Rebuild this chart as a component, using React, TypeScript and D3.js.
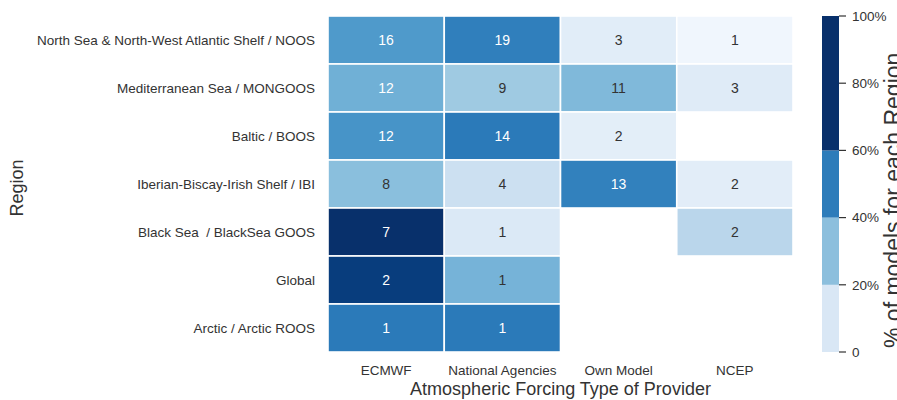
import React, { useEffect, useRef } from 'react';
import * as d3 from 'd3';

// rows, top to bottom
const regions = [
  'North Sea & North-West Atlantic Shelf / NOOS',
  'Mediterranean Sea / MONGOOS',
  'Baltic / BOOS',
  'Iberian-Biscay-Irish Shelf / IBI',
  'Black Sea  / BlackSea GOOS',
  'Global',
  'Arctic / Arctic ROOS',
];
const providers = ['ECMWF', 'National Agencies', 'Own Model', 'NCEP'];

// number of models per provider, one entry per region (null = no model)
const ecmwf = [16, 12, 12, 8, 7, 2, 1];
const nationalAgencies = [19, 9, 14, 4, 1, 1, 1];
const ownModel = [3, 11, 2, 13, null, null, null];
const ncep = [1, 3, null, 2, 2, null, null];

const colorbarTicks = [0, 20, 40, 60, 80, 100];
const colorbarEdges = [0, 20, 40, 60, 100];
const colorbarColors = ['#d9e7f5', '#8cbfdd', '#2d7cba', '#08306b'];

const W = 897;
const H = 400;
const FONT = '"Liberation Sans", Arial, Helvetica, sans-serif';

const App: React.FC = () => {
  const svgRef = useRef<SVGSVGElement>(null);

  useEffect(() => {
    if (!svgRef.current) return;
    const svg = d3.select(svgRef.current);
    svg.selectAll('*').remove();

    const margin = { top: 16, left: 328 };
    const innerW = 465;
    const innerH = 336;

    const columns = [ecmwf, nationalAgencies, ownModel, ncep];
    const cells: { r: number; c: number; v: number; pct: number }[] = [];
    regions.forEach((_, r) => {
      const total = d3.sum(columns, (col) => col[r] ?? 0);
      columns.forEach((col, c) => {
        const v = col[r];
        if (v != null) cells.push({ r, c, v, pct: v / total });
      });
    });
    const vmax = d3.max(cells, (d) => d.pct)!;
    const norm = d3.scaleLinear().domain([0, vmax]).range([0, 1]);
    const color = (p: number) => d3.interpolateBlues(norm(p));

    const x = d3.scaleBand().domain(providers).range([0, innerW]);
    const y = d3.scaleBand().domain(regions).range([0, innerH]);

    const g = svg.append('g').attr('transform', `translate(${margin.left},${margin.top})`);

    g.selectAll('rect.cell')
      .data(cells)
      .join('rect')
      .attr('class', 'cell')
      .attr('x', (d) => x(providers[d.c])!)
      .attr('y', (d) => y(regions[d.r])!)
      .attr('width', x.bandwidth())
      .attr('height', y.bandwidth())
      .attr('fill', (d) => color(d.pct))
      .attr('stroke', '#fff')
      .attr('stroke-width', 1.6);

    g.selectAll('text.ann')
      .data(cells)
      .join('text')
      .attr('class', 'ann')
      .attr('x', (d) => x(providers[d.c])! + x.bandwidth() / 2)
      .attr('y', (d) => y(regions[d.r])! + y.bandwidth() / 2)
      .attr('dy', '0.36em')
      .attr('text-anchor', 'middle')
      .attr('font-family', FONT)
      .attr('font-size', 14)
      .attr('fill', (d) => (norm(d.pct) > 0.48 ? '#fff' : '#333'))
      .text((d) => d.v);

    // y tick labels
    g.selectAll('text.ylab')
      .data(regions)
      .join('text')
      .attr('class', 'ylab')
      .attr('x', -13)
      .attr('y', (d) => y(d)! + y.bandwidth() / 2)
      .attr('dy', '0.35em')
      .attr('text-anchor', 'end')
      .attr('font-family', FONT)
      .attr('font-size', 13.5)
      .attr('fill', '#333')
      .style('white-space', 'pre')
      .text((d) => d);

    // x tick labels
    g.selectAll('text.xlab')
      .data(providers)
      .join('text')
      .attr('class', 'xlab')
      .attr('x', (d) => x(d)! + x.bandwidth() / 2)
      .attr('y', innerH + 23)
      .attr('text-anchor', 'middle')
      .attr('font-family', FONT)
      .attr('font-size', 13.5)
      .attr('fill', '#333')
      .text((d) => d);

    g.append('text')
      .attr('x', innerW / 2)
      .attr('y', innerH + 43)
      .attr('text-anchor', 'middle')
      .attr('font-family', FONT)
      .attr('font-size', 18)
      .attr('fill', '#333')
      .text('Atmospheric Forcing Type of Provider');

    svg
      .append('text')
      .attr('transform', `translate(23,${margin.top + innerH / 2 + 4}) rotate(-90)`)
      .attr('text-anchor', 'middle')
      .attr('font-family', FONT)
      .attr('font-size', 18)
      .attr('fill', '#333')
      .text('Region');

    // colorbar
    const cbX = 822;
    const cbW = 17;
    const cy = d3.scaleLinear().domain([0, 100]).range([margin.top + innerH, margin.top]);
    const bins = colorbarColors.map((c, i) => ({ lo: colorbarEdges[i], hi: colorbarEdges[i + 1], c }));
    svg
      .append('g')
      .selectAll('rect')
      .data(bins)
      .join('rect')
      .attr('x', cbX)
      .attr('y', (d) => cy(d.hi))
      .attr('width', cbW)
      .attr('height', (d) => cy(d.lo) - cy(d.hi))
      .attr('fill', (d) => d.c);

    const cbAxis = svg.append('g').attr('transform', `translate(${cbX + cbW},0)`);
    cbAxis
      .selectAll('line')
      .data(colorbarTicks)
      .join('line')
      .attr('x1', 0)
      .attr('x2', 7)
      .attr('y1', (d) => cy(d))
      .attr('y2', (d) => cy(d))
      .attr('stroke', '#333')
      .attr('stroke-width', 1.2);
    cbAxis
      .selectAll('text')
      .data(colorbarTicks)
      .join('text')
      .attr('x', 13)
      .attr('y', (d) => cy(d))
      .attr('dy', '0.35em')
      .attr('font-family', FONT)
      .attr('font-size', 13.5)
      .attr('fill', '#333')
      .text((d) => (d === 0 ? '0' : `${d}%`));

    svg
      .append('text')
      .attr('transform', `translate(901,348) rotate(-90)`)
      .attr('text-anchor', 'start')
      .attr('font-family', FONT)
      .attr('font-size', 23)
      .attr('fill', '#333')
      .text('% of models for each Region');
  }, []);

  return (
    <div style={{ position: 'absolute', left: 0, top: 0, width: W, height: H, background: '#fff' }}>
      <svg ref={svgRef} width={W} height={H} style={{ display: 'block' }} />
    </div>
  );
};

export default App;
